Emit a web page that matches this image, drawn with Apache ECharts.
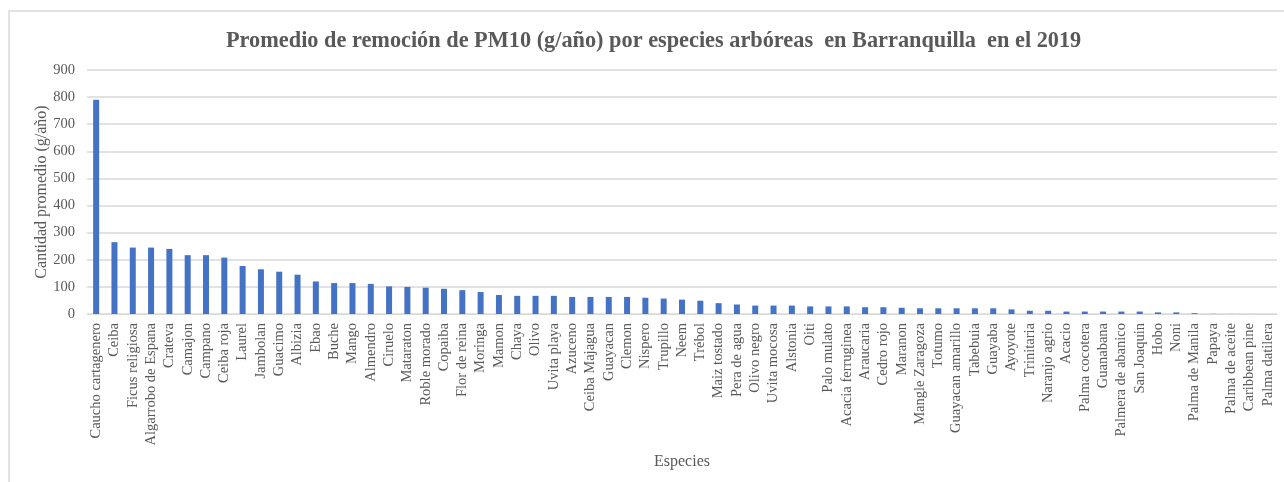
<!DOCTYPE html>
<html>
<head>
<meta charset="utf-8">
<script src="https://cdn.jsdelivr.net/npm/echarts@6/dist/echarts.min.js"></script>
<style>
html,body{margin:0;padding:0;background:#fff;}
#c{width:1284px;height:482px;}
</style>
</head>
<body>
<div id="c"></div>
<script>
const categories = ["Caucho cartagenero","Ceiba","Ficus religiosa","Algarrobo de Espana","Crateva","Camajon","Campano","Ceiba roja","Laurel","Jambolan","Guacimo","Albizia","Ebao","Buche","Mango","Almendro","Ciruelo","Mataraton","Roble morado","Copaiba","Flor de reina","Moringa","Mamon","Chaya","Olivo","Uvita playa","Azuceno","Ceiba Majagua","Guayacan","Clemon","Nispero","Trupillo","Neem","Trébol","Maiz tostado","Pera de agua","Olivo negro","Uvita mocosa","Alstonia","Oiti","Palo mulato","Acacia ferruginea","Araucaria","Cedro rojo","Maranon","Mangle Zaragoza","Totumo","Guayacan amarillo","Tabebuia","Guayaba","Ayoyote","Trinitaria","Naranjo agrio","Acacio","Palma cocotera","Guanabana","Palmera de abanico","San Joaquin","Hobo","Noni","Palma de Manila","Papaya","Palma de aceite","Caribbean pine","Palma datilera"];
const values = [790,265,245,245,240,217,217,208,177,165,156,145,120,114,114,111,102,100,97,93,88,81,70,67,67,67,63,63,63,63,60,57,53,49,40,35,31,31,31,28,28,28,25,25,23,21,21,21,21,21,17,12,12,9,9,9,9,9,6,6,3,0.5,0.3,0.2,0.1];
const yTicks = [0,100,200,300,400,500,600,700,800,900];

const font = '"Liberation Serif","Times New Roman",serif';
const txt = '#595959';
const chart = echarts.init(document.getElementById('c'));
chart.setOption({
  animation:false,
  backgroundColor:'#fff',
  graphic:[{type:'rect',shape:{x:9,y:11,width:1400,height:600},style:{fill:'none',stroke:'#D9D9D9',lineWidth:1.5},silent:true}],
  title:{text:'Promedio de remoción de PM10 (g/año) por especies arbóreas  en Barranquilla  en el 2019',left:221,top:25,
    textStyle:{fontFamily:font,fontSize:22.3,fontWeight:'bold',color:txt}},
  grid:{left:87,right:7,top:70,bottom:168},
  xAxis:{type:'category',data:categories,
    name:'Especies',nameLocation:'middle',nameGap:140,nameMoveOverlap:false,nameTextStyle:{fontFamily:font,fontSize:16,color:txt},
    axisLine:{lineStyle:{color:'#D9D9D9',width:1}},axisTick:{show:false},
    axisLabel:{interval:0,rotate:90,fontFamily:font,fontSize:14.5,color:txt,margin:9}},
  yAxis:{type:'value',min:yTicks[0],max:yTicks[yTicks.length-1],interval:100,
    name:'Cantidad promedio (g/año)',nameLocation:'middle',nameGap:37,nameRotate:90,nameMoveOverlap:false,
    nameTextStyle:{fontFamily:font,fontSize:16,color:txt},
    axisLine:{show:false},axisTick:{show:false},
    axisLabel:{fontFamily:font,fontSize:14.5,color:txt,margin:12},
    splitLine:{lineStyle:{color:'#D9D9D9',width:1.5}}},
  series:[{type:'bar',data:values,barWidth:6,itemStyle:{color:'#4472C4'}}]
});
</script>
</body>
</html>
